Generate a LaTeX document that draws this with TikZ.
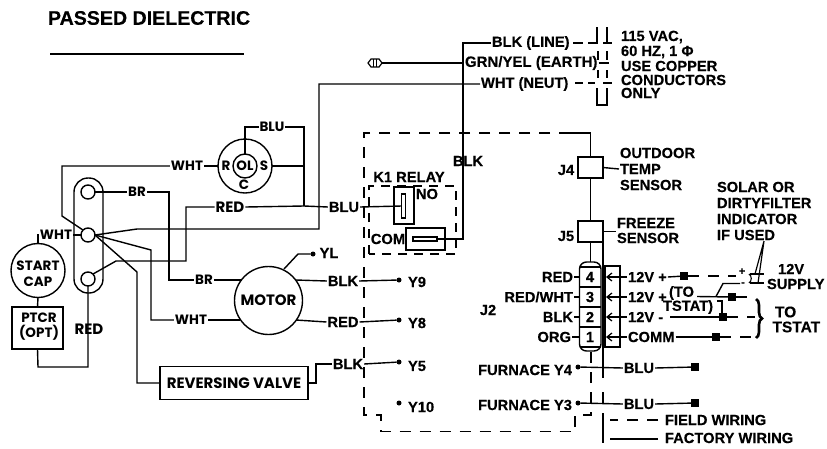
\documentclass[tikz,border=0pt]{standalone}
\usepackage{fontspec}
\setmainfont[BoldFeatures={FakeBold=0.25}]{Liberation Sans}
\newfontfamily\gothfont{Poppins}
\usetikzlibrary{arrows.meta,decorations.pathreplacing}
\tikzset{
  wire/.style={line width=1.4pt,line join=miter},
  fieldw/.style={line width=1.4pt,dash pattern=on 11pt off 9pt},
  lab/.style={inner sep=1pt,outer sep=0pt,font=\fontsize{14.7}{14.7}\selectfont\bfseries},
  goth/.style={inner sep=1pt,outer sep=0pt,font=\fontsize{13.5}{13.5}\selectfont\gothfont\bfseries},
  gothb/.style={inner sep=1pt,outer sep=0pt,font=\fontsize{15}{15}\selectfont\gothfont\bfseries},
  termc/.style={circle,draw,line width=1.4pt,minimum size=14pt,inner sep=0pt,outer sep=0pt},
  dotn/.style={circle,fill=black,minimum size=5pt,inner sep=0pt,outer sep=0pt},
  squaren/.style={rectangle,fill=black,minimum size=8pt,inner sep=0pt,outer sep=0pt},
  boxn/.style={rectangle,draw,line width=1.4pt,inner sep=0pt,outer sep=0pt},
  barb/.style={-{Straight Barb[length=5pt,width=8pt,line width=1.2pt]}},
}
\begin{document}
\begin{tikzpicture}[x=1pt,y=-1pt]
\useasboundingbox (0,0) rectangle (827,448);
% title
\node[lab,anchor=west,font=\fontsize{19.6}{19.6}\selectfont\bfseries] (title) at (47,18) {PASSED DIELECTRIC};
\coordinate (ruleL) at (50,54); \coordinate (ruleR) at (244,54);
\draw[wire] (ruleL) -- (ruleR);

% ---- capacitor terminal strip
\draw[wire,rounded corners=14pt] (74,293) rectangle (103,178);
\node[termc] (t1) at (88,192) {};
\node[termc] (t2) at (88,235) {};
\node[termc] (t3) at (88,279) {};

% ---- OLS
\node[circle,draw,line width=1.4pt,minimum size=54pt,inner sep=0pt,outer sep=0pt] (ols) at (245,166) {};
\node[circle,draw,line width=1.4pt,minimum size=24pt,inner sep=0pt,outer sep=0pt] (ol) at (245,166) {};
\node[goth] (olR) at (226,166) {R};
\node[goth] (olT) at (245,166) {OL};
\node[goth] (olS) at (264,166) {S};
\node[goth] (olC) at (244,185) {C};

% ---- start cap
\node[circle,draw,line width=1.4pt,minimum size=54pt,inner sep=0pt,outer sep=0pt] (cap) at (38,270.5) {};
\node[goth] (capA) at (38,266) {START};
\node[goth] (capB) at (38,282) {CAP};
\node[boxn,minimum width=51pt,minimum height=42pt] (ptcr) at (37.5,328) {};
\node[goth] (ptA) at (39,318) {PTCR};
\node[goth] (ptB) at (39,333) {(OPT)};
\node[goth] (wcap) at (56,235) {WHT};
\node[gothb] (redv) at (89,329) {RED};
\draw[wire] (cap.north) -- (38,235) -- (wcap.west);
\draw[wire] (wcap.east) -- (t2.west);
\draw[wire] (cap.south) -- (ptcr.north);
\draw[wire] (ptcr.south) -- (38,367) -- (88,367) -- (t3.south);

% ---- motor
\node[circle,draw,line width=1.4pt,minimum size=68pt,inner sep=0pt,outer sep=0pt] (motor) at (268.5,300.5) {};
\node[gothb] (motorT) at (268.5,300) {MOTOR};
\coordinate (mBR) at (242,280); \coordinate (mWH) at (240,320);
\coordinate (mBK) at (296,280); \coordinate (mRD) at (296,320); \coordinate (mYL) at (284,269);

% ---- reversing valve
\node[boxn,minimum width=148pt,minimum height=33pt] (rv) at (234,383) {};
\node[gothb] (rvT) at (234,383.5) {REVERSING VALVE};

% ---- left wires
\node[goth] (wht1) at (187,166) {WHT};
\draw[wire] (t2.north west) -- (62,216) -- (62,166) -- (wht1.west);
\draw[wire] (wht1.east) -- (ols.west);
\node[goth] (br1) at (137,192) {BR};
\node[goth] (br2) at (204,280) {BR};
\draw[wire] (t1.east) -- (br1.west);
\draw[wire] (br1.east) -- (169,192) -- (169,280) -- (br2.west);
\draw[wire] (br2.east) -- (mBR);
\node[goth] (wht2) at (191,320) {WHT};
\draw[wire] (t2.east) -- (151,250) -- (151,320) -- (wht2.west);
\draw[wire] (wht2.east) -- (mWH);
\node[gothb] (red1) at (230,207) {RED};
\draw[wire] (t3.north east) -- (116,261) -- (186,261) -- (186,207) -- (red1.west);
\coordinate (bluJ) at (304,206);
\draw[wire] (red1.east) -- (bluJ);
\draw[wire] (t2.east) -- (137,272) -- (137,383) -- (rv.west);
\node[goth] (blu1) at (272,127) {BLU};
\draw[wire] (ol.north) -- (245,127) -- (blu1.west);
\draw[wire] (blu1.east) -- (304,127) -- (bluJ);
\draw[wire] (ols.east) -- (304,166);
\node[lab] (blu2) at (344,207) {BLU};
\draw[wire] (bluJ) -- (blu2.west);

% ---- relay
\draw[fieldw,dash pattern=on 9pt off 7pt] (369,254) -- (369,186) -- (456,186) -- (456,254) -- cycle;
\node[lab] (k1) at (409,177) {K1 RELAY};
\node[lab] (no) at (427,194) {NO};
\node[lab] (com) at (388,239) {COM};
\node[boxn,minimum width=20pt,minimum height=37pt] (nob) at (404,205.5) {};
\node[boxn,minimum width=3.5pt,minimum height=24pt] (noc) at (403.5,206) {};
\node[boxn,minimum width=39pt,minimum height=22pt] (comb) at (425.5,239) {};
\node[boxn,minimum width=24pt,minimum height=4pt] (comc) at (425,239) {};
\draw[wire] (blu2.east) -- (noc.west);

% ---- power lines
\node[lab,anchor=west] (bline) at (491,43) {BLK (LINE)};
\node[lab,anchor=west,font=\fontsize{15}{15}\selectfont\bfseries] (gline) at (464,63) {GRN/YEL (EARTH)};
\node[lab,anchor=west] (nline) at (480,84) {WHT (NEUT)};
\node[lab] (blk3) at (468,161) {BLK};
\draw[wire] (t2.east) -- (137,229) -- (319,229) -- (319,84) -- (nline.west);
\draw[wire] (bline.west) -- (463,43) -- (463,239) -- (comc.east);
% earth symbol
\coordinate (earth) at (382,63);
\draw[line width=1.2pt] (368,63) -- (371,59) -- (379,59) -- (382,63) -- (379,67) -- (371,67) -- cycle;
\draw[line width=1.2pt] (373.5,59) -- (373.5,67) (376.5,59) -- (376.5,67);
\draw[line width=1.7pt] (earth) -- (gline.west);

% ---- disconnect
\draw[wire] (573,43) -- (583,43) (588,43) -- (597,43) -- (597,27);
\draw[wire] (607,27) -- (607,43) (603,43) -- (612,43);
\draw[wire] (gline.east) -- (609,63);
\draw[wire] (598,51) -- (598,60) (607,51) -- (607,60);
\draw[wire] (598,70) -- (598,78) (607,70) -- (607,78);
\draw[wire] (575,83) -- (583,83) (588,83) -- (595,83) (603,83) -- (612,83);
\draw[wire] (597,88) -- (597,105) -- (607,105) -- (607,88);
\node[lab,anchor=west] (p1) at (620,37) {115 VAC,};
\node[lab,anchor=west] (p2) at (620,52) {60 HZ, 1 Φ};
\node[lab,anchor=west] (p3) at (620,66) {USE COPPER};
\node[lab,anchor=west] (p4) at (620,80) {CONDUCTORS};
\node[lab,anchor=west] (p5) at (620,93) {ONLY};

% ---- dashed field box
\draw[fieldw] (570,133) -- (364,133) -- (364,415) -- (381,415) -- (381,431.5) -- (575,431.5) -- (575,415) -- (591,415) -- (591,351);

% ---- sensors
\node[boxn,minimum width=25pt,minimum height=21pt] (j4) at (590.5,167.5) {};
\node[boxn,minimum width=25pt,minimum height=21pt] (j5) at (590.5,231.5) {};
\draw[wire] (j4.north) -- (590.5,133) -- (570,133);
\draw[wire] (j4.south) -- (j5.north);
\node[lab] (j4t) at (566,170) {J4};
\node[lab] (j5t) at (566,236) {J5};
\node[lab,anchor=west] (s1) at (619,153) {OUTDOOR};
\node[lab,anchor=west] (s2) at (619,169) {TEMP};
\node[lab,anchor=west] (s3) at (619,185) {SENSOR};
\node[lab,anchor=west] (f1) at (616,223) {FREEZE};
\node[lab,anchor=west] (f2) at (616,238) {SENSOR};
\draw[wire] (j4.east) -- (s2.west);
\draw[wire] (j5.east) -- (f2.west |- j5.east);

% ---- J2
\draw[wire,rounded corners=7pt] (579.5,351) -- (601,351) -- (601,262) -- (579.5,262) -- cycle;
\foreach \yy in {267,287,307,327,347} \draw[wire] (579.5,\yy) -- (601,\yy);
\draw[wire] (j5.south) -- (590.5,262);
\draw[wire] (603,242) -- (603,378) (603,392) -- (603,403);
\draw[wire] (605,266) rectangle (620,347);
\node[lab] (r4) at (590,277) {4};
\node[lab] (r3) at (590,297) {3};
\node[lab] (r2) at (590,317) {2};
\node[lab] (r1) at (590,337) {1};
\node[lab,anchor=east] (j4l) at (574,277) {RED};
\node[lab,anchor=east] (j3l) at (574,297) {RED/WHT};
\node[lab,anchor=east] (j2l) at (574,317) {BLK};
\node[lab,anchor=east] (j1l) at (572,337) {ORG};
\node[lab] (j2t) at (488,310) {J2};
\draw[wire] (j4l.east) -- (580,277);
\draw[wire] (j3l.east) -- (580,297);
\draw[wire] (j2l.east) -- (580,317);
\draw[wire] (j1l.east) -- (580,337);
\node[lab,anchor=west] (v4) at (627,277) {12V +};
\node[lab,anchor=west] (v3) at (627,297) {12V +};
\node[lab,anchor=west] (v2) at (627,317) {12V -};
\node[lab,anchor=west] (v1) at (627,337) {COMM};
\draw[wire,barb] (v4.west) -- (606,277);
\draw[wire,barb] (v3.west) -- (606,297);
\draw[wire,barb] (v2.west) -- (606,317);
\draw[wire,barb] (v1.west) -- (606,337);
\node[lab,anchor=west] (to1) at (668,293) {(TO};
\node[lab,anchor=west] (to2) at (662,307) {TSTAT)};
\node[squaren] (q4) at (684,276) {};
\node[squaren] (q3) at (732,297) {};
\node[squaren] (q2) at (723,317) {};
\node[squaren] (q1) at (716,337) {};
\draw[wire] (v4.east) -- (q4);
\draw[fieldw] (q4) -- (736,276);
\draw[wire] (697,296.5) -- (q3);
\draw[wire] (716,296.5) -- (723,283.5) -- (740,283.5);
\draw[wire] (670,317) -- (q2);
\draw[wire] (717,301) -- (722,301) -- (722,317);
\draw[wire] (v1.east) -- (q1);
\draw[fieldw] (q3) -- (752,297);
\draw[fieldw] (q2) -- (755,317);
\draw[fieldw] (q1) -- (755,337);
\node[inner sep=0pt,font=\fontsize{11}{11}\selectfont\bfseries] (plus) at (742,271.5) {+};
\node[inner sep=0pt,font=\fontsize{11}{11}\selectfont\bfseries] (minus) at (743,284) {-};
\draw[line width=1.1pt] (750,274) -- (764,274) (750,283) -- (764,283);
\draw[line width=1.1pt] (749,274) .. controls (752,276) and (752,281) .. (749,283);
\draw[line width=1.2pt] (764,241) -- (755,274) (764,241) -- (758,283);
\node[lab,anchor=west] (i1) at (716,187) {SOLAR OR};
\node[lab,anchor=west] (i2) at (716,203) {DIRTYFILTER};
\node[lab,anchor=west] (i3) at (716,219) {INDICATOR};
\node[lab,anchor=west] (i4) at (716,235) {IF USED};
\node[lab,anchor=west] (sp1) at (777,269) {12V};
\node[lab,anchor=west] (sp2) at (766,284) {SUPPLY};
\draw[line width=2.6pt,decorate,decoration={brace,amplitude=6pt}] (756,299) -- (756,338);
\node[lab,anchor=west,font=\fontsize{15.5}{15.5}\selectfont\bfseries] (tt1) at (774,312) {TO};
\node[lab,anchor=west,font=\fontsize{15.5}{15.5}\selectfont\bfseries] (tt2) at (771.5,327) {TSTAT};

% ---- Y terminals
\node[lab] (bk9) at (343,281) {BLK};
\node[lab] (rd8) at (343,322) {RED};
\node[lab] (bk5) at (348,364) {BLK};
\node[lab] (ylt) at (329,253) {YL};
\node[dotn] (y9) at (399,280) {};
\node[dotn] (y8) at (399,320) {};
\node[dotn] (y5) at (399,362) {};
\node[dotn] (y10) at (399,403) {};
\node[dotn] (yl) at (313,254) {};
\node[lab,anchor=west] (y9t) at (407,282) {Y9};
\node[lab,anchor=west] (y8t) at (407,323) {Y8};
\node[lab,anchor=west] (y5t) at (407,366) {Y5};
\node[lab,anchor=west] (y10t) at (407,407) {Y10};
\draw[wire] (mBK) -- (bk9.west);
\draw[wire] (mRD) -- (rd8.west);
\draw[wire] (bk9.east) -- (y9);
\draw[wire] (rd8.east) -- (y8);
\draw[wire] (bk5.east) -- (y5);
\draw[wire] (rv.east) -- (316,383) -- (316,364) -- (bk5.west);
\draw[wire] (mYL) -- (298,254) -- (yl);

% ---- furnace
\node[lab,anchor=east] (fy4) at (573,370) {FURNACE Y4};
\node[lab,anchor=east] (fy3) at (573,405) {FURNACE Y3};
\node[dotn] (d4) at (578,367) {};
\node[dotn] (d3) at (578,403) {};
\node[lab] (b4) at (639,368) {BLU};
\node[lab] (b3) at (639,404) {BLU};
\node[squaren] (s4) at (695,367) {};
\node[squaren] (s3) at (695,403) {};
\draw[wire] (d4) -- (b4.west); \draw[wire] (b4.east) -- (s4);
\draw[wire] (d3) -- (b3.west); \draw[wire] (b3.east) -- (s3);

% ---- legend
\coordinate (legtop) at (603,413); \coordinate (legbot) at (603,443);
\draw[wire] (legtop) -- (legbot);
\node[lab,anchor=west] (lf) at (664,420) {FIELD WIRING};
\node[lab,anchor=west] (lw) at (664,438) {FACTORY WIRING};
\draw[fieldw] (lf.west) ++(-6,0) -- (610,420);
\draw[wire] (lw.west) ++(-6,1) -- (610,439);
\end{tikzpicture}
\end{document}
